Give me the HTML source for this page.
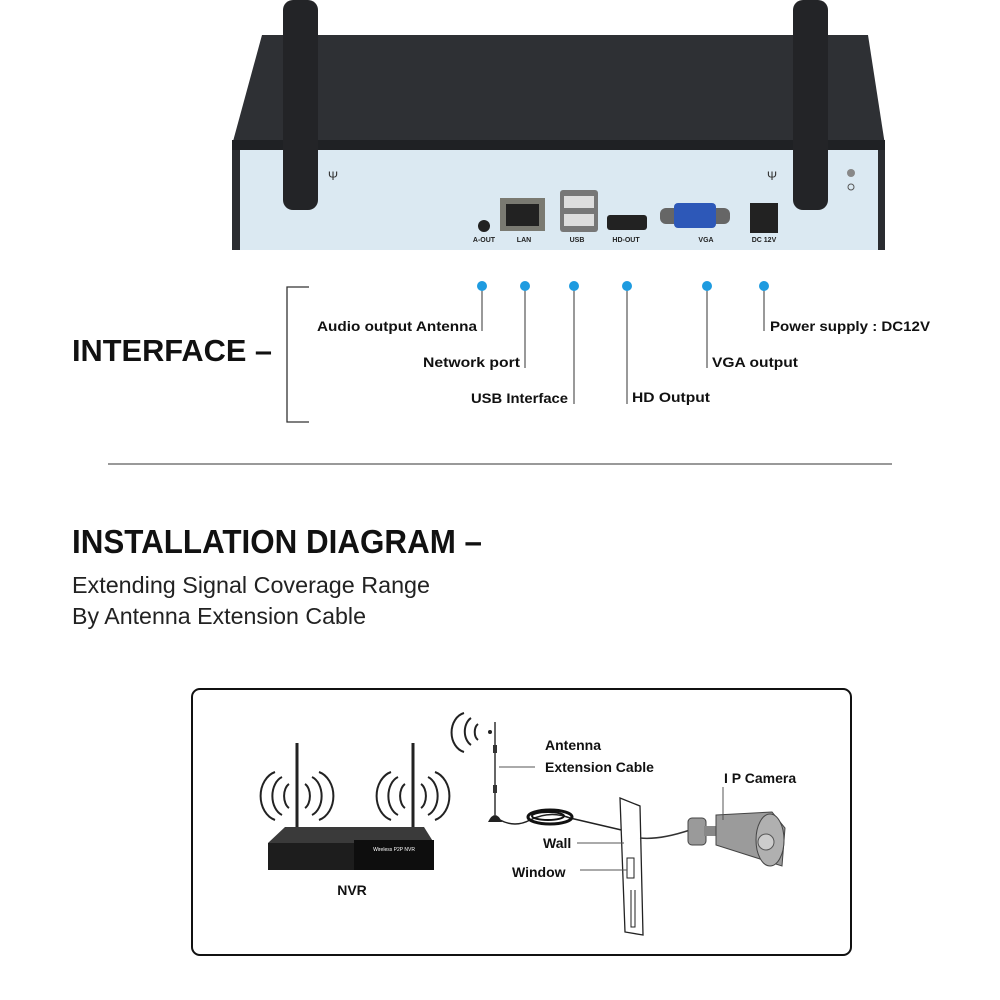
<!DOCTYPE html>
<html><head><meta charset="utf-8"><style>
html,body{margin:0;padding:0;background:#fff;}
svg{display:block;font-family:"Liberation Sans",sans-serif;}
</style></head><body>
<svg width="1000" height="1000" viewBox="0 0 1000 1000" xmlns="http://www.w3.org/2000/svg">
<!-- Device top -->
<polygon points="262,35 868,35 885,145 232,145" fill="#2e3034"/>
<rect x="232" y="140" width="653" height="12" fill="#1f2124"/>
<rect x="232" y="150" width="653" height="100" fill="#dbe9f2"/>
<rect x="232" y="150" width="8" height="100" fill="#2a2c30"/>
<rect x="878" y="150" width="7" height="100" fill="#2a2c30"/>
<rect x="283" y="0" width="35" height="210" rx="10" fill="#232427"/>
<rect x="793" y="0" width="35" height="210" rx="10" fill="#232427"/>
<text x="328" y="180" font-size="12" fill="#333">Ψ</text>
<text x="767" y="180" font-size="12" fill="#333">Ψ</text>
<circle cx="851" cy="173" r="4" fill="#888"/><circle cx="851" cy="187" r="3" fill="none" stroke="#555"/>
<circle cx="484" cy="226" r="6" fill="#222"/>
<rect x="500" y="198" width="45" height="33" fill="#7a7a72"/><rect x="506" y="204" width="33" height="22" fill="#222"/>
<rect x="560" y="190" width="38" height="42" rx="3" fill="#777"/><rect x="564" y="196" width="30" height="12" fill="#ddd"/><rect x="564" y="214" width="30" height="12" fill="#ddd"/>
<rect x="607" y="215" width="40" height="15" rx="3" fill="#222"/>
<rect x="660" y="208" width="70" height="16" rx="6" fill="#666"/><rect x="674" y="203" width="42" height="25" rx="4" fill="#2d58b8"/>
<rect x="750" y="203" width="28" height="30" fill="#222"/>
<g font-size="7" font-weight="bold" fill="#222" text-anchor="middle">
<text x="484" y="242">A-OUT</text><text x="524" y="242">LAN</text><text x="577" y="242">USB</text><text x="626" y="242">HD-OUT</text><text x="706" y="242">VGA</text><text x="764" y="242">DC 12V</text>
</g>
<!-- connectors -->
<g stroke="#333" stroke-width="1">
<line x1="482" y1="286" x2="482" y2="331"/><line x1="525" y1="286" x2="525" y2="368"/>
<line x1="574" y1="286" x2="574" y2="404"/><line x1="627" y1="286" x2="627" y2="404"/>
<line x1="707" y1="286" x2="707" y2="368"/><line x1="764" y1="286" x2="764" y2="331"/>
<polyline points="309,287 287,287 287,422 309,422" fill="none" stroke-width="1.3"/>
<line x1="108" y1="464" x2="892" y2="464"/>
</g>
<g fill="#1e9be0">
<circle cx="482" cy="286" r="5"/><circle cx="525" cy="286" r="5"/><circle cx="574" cy="286" r="5"/>
<circle cx="627" cy="286" r="5"/><circle cx="707" cy="286" r="5"/><circle cx="764" cy="286" r="5"/>
</g>
<g font-size="14" font-weight="bold" fill="#111">
<text x="317" y="331" textLength="160" lengthAdjust="spacingAndGlyphs">Audio output Antenna</text>
<text x="423" y="367" textLength="97" lengthAdjust="spacingAndGlyphs">Network port</text>
<text x="471" y="403" textLength="97" lengthAdjust="spacingAndGlyphs">USB Interface</text>
<text x="632" y="402" textLength="78" lengthAdjust="spacingAndGlyphs">HD Output</text>
<text x="712" y="367" textLength="86" lengthAdjust="spacingAndGlyphs">VGA output</text>
<text x="770" y="331" textLength="160" lengthAdjust="spacingAndGlyphs">Power supply : DC12V</text>
</g>
<text x="72" y="361" font-size="31" font-weight="bold" fill="#111" textLength="200" lengthAdjust="spacingAndGlyphs">INTERFACE –</text>
<text x="72" y="553" font-size="33" font-weight="bold" fill="#111" textLength="410" lengthAdjust="spacingAndGlyphs">INSTALLATION DIAGRAM –</text>
<text x="72" y="593" font-size="23" fill="#222" textLength="358" lengthAdjust="spacingAndGlyphs">Extending Signal Coverage Range</text>
<text x="72" y="624" font-size="23" fill="#222" textLength="294" lengthAdjust="spacingAndGlyphs">By Antenna Extension Cable</text>
<!-- diagram box -->
<rect x="192" y="689" width="659" height="266" rx="8" fill="#fff" stroke="#111" stroke-width="2"/>
<!-- NVR -->
<line x1="297" y1="743" x2="297" y2="830" stroke="#222" stroke-width="3"/>
<line x1="413" y1="743" x2="413" y2="830" stroke="#222" stroke-width="3"/>
<g fill="none" stroke="#222" stroke-width="2">
<path d="M289,808 a8,13 0 0 1 0,-24"/><path d="M305,784 a8,13 0 0 1 0,24"/>
<path d="M282,815 a14,20 0 0 1 0,-38"/><path d="M312,777 a14,20 0 0 1 0,38"/>
<path d="M275,820 a20,25 0 0 1 0,-48"/><path d="M319,772 a20,25 0 0 1 0,48"/>
<path d="M405,808 a8,13 0 0 1 0,-24"/><path d="M421,784 a8,13 0 0 1 0,24"/>
<path d="M398,815 a14,20 0 0 1 0,-38"/><path d="M428,777 a14,20 0 0 1 0,38"/>
<path d="M391,820 a20,25 0 0 1 0,-48"/><path d="M435,772 a20,25 0 0 1 0,48"/>
</g>
<polygon points="285,827 424,827 434,843 268,843" fill="#3a3a3a"/>
<rect x="268" y="843" width="166" height="27" fill="#1d1d1d"/>
<rect x="354" y="840" width="80" height="30" fill="#0e0e0e"/>
<text x="394" y="851" font-size="5" fill="#fff" text-anchor="middle">Wireless P2P NVR</text>
<text x="352" y="895" font-size="14" font-weight="bold" fill="#111" text-anchor="middle">NVR</text>
<!-- antenna extension -->
<g fill="none" stroke="#222" stroke-width="2">
<path d="M478,740 a6,9 0 0 1 0,-16"/><path d="M471,745 a11,15 0 0 1 0,-27"/><path d="M464,752 a16,20 0 0 1 0,-39"/>
</g>
<circle cx="490" cy="732" r="2" fill="#222"/>
<line x1="495" y1="722" x2="495" y2="815" stroke="#333" stroke-width="1.5"/>
<rect x="493" y="745" width="4" height="8" fill="#333"/><rect x="493" y="785" width="4" height="8" fill="#333"/>
<path d="M488,822 Q495,808 502,822 Z" fill="#222"/>
<path d="M500,820 Q515,828 530,820 Q550,810 570,818 Q600,825 630,832" fill="none" stroke="#222" stroke-width="1.5"/>
<ellipse cx="550" cy="817" rx="22" ry="7" fill="none" stroke="#111" stroke-width="3"/>
<ellipse cx="548" cy="816" rx="16" ry="4" fill="none" stroke="#111" stroke-width="2"/>
<line x1="499" y1="767" x2="535" y2="767" stroke="#555" stroke-width="1"/>
<!-- wall -->
<polygon points="620,798 640,806 643,935 625,932" fill="#fff" stroke="#222" stroke-width="1.3"/>
<rect x="627" y="858" width="7" height="20" fill="none" stroke="#222"/>
<polyline points="631,890 631,927 635,927 635,890" fill="none" stroke="#222"/>
<line x1="577" y1="843" x2="624" y2="843" stroke="#555"/>
<line x1="580" y1="870" x2="627" y2="870" stroke="#555"/>
<path d="M640,838 Q660,840 690,830" fill="none" stroke="#333" stroke-width="1.5"/>
<!-- camera -->
<rect x="688" y="818" width="18" height="27" rx="4" fill="#9a9a9a" stroke="#444"/>
<rect x="704" y="826" width="12" height="10" fill="#888"/>
<polygon points="716,815 772,812 785,828 782,866 716,845" fill="#9b9b9b" stroke="#444"/>
<ellipse cx="770" cy="840" rx="14" ry="26" fill="#b0b0b0" stroke="#444"/>
<circle cx="766" cy="842" r="8" fill="#ccc" stroke="#555"/>
<line x1="723" y1="787" x2="723" y2="820" stroke="#555"/>
<g font-size="14" font-weight="bold" fill="#111">
<text x="545" y="750">Antenna</text>
<text x="545" y="772">Extension Cable</text>
<text x="724" y="783">I P Camera</text>
<text x="543" y="848">Wall</text>
<text x="512" y="877">Window</text>
</g>
</svg>
</body></html>
